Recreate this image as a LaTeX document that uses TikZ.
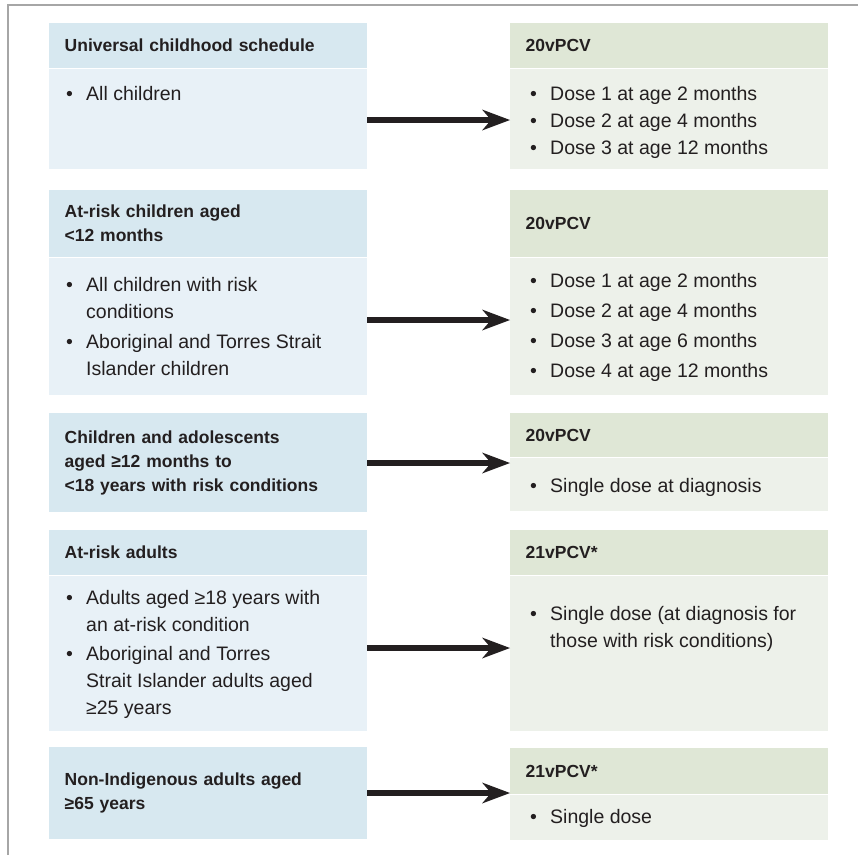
\documentclass[tikz,border=0pt]{standalone}
\usepackage{fontspec}
\setmainfont{Liberation Sans}
\usetikzlibrary{arrows.meta,positioning}

\definecolor{lheadc}{HTML}{D7E8F0}
\definecolor{lbodyc}{HTML}{E8F1F7}
\definecolor{rheadc}{HTML}{DFE7D6}
\definecolor{rbodyc}{HTML}{EDF1EA}
\definecolor{inkc}{HTML}{231F20}
\definecolor{framec}{HTML}{A6A6A6}

\newcommand{\hdfont}{\bfseries\fontsize{17.5}{24}\selectfont}
\newcommand{\bdfont}{\fontsize{19.5}{27}\selectfont}
\newcommand{\itm}[1]{\makebox[20pt][l]{\textbullet}#1}
\newcommand{\cnt}[1]{\hspace*{20pt}#1}
\newcommand{\lines}[1]{\begin{tabular}[t]{@{}l@{}}#1\end{tabular}}

\tikzstyle{box} = [rectangle, inner sep=0pt, anchor=north west, minimum width=318pt]
\tikzstyle{lhead} = [box, fill=lheadc, inner xsep=15.5pt, text width=287pt, align=left, font=\hdfont, text=inkc]
\tikzstyle{rhead} = [lhead, fill=rheadc]
\tikzstyle{lbody} = [box, fill=lbodyc]
\tikzstyle{rbody} = [box, fill=rbodyc]
\tikzstyle{txt} = [inner sep=0pt, anchor=base west, font=\bdfont, text=inkc]
\tikzstyle{arr} = [line width=5.5pt, draw=inkc, -{Stealth[length=28pt,width=21pt,inset=9pt,line width=0pt]}]

\begin{document}
\begin{tikzpicture}[x=1pt,y=-1pt]
    \useasboundingbox (0,0) rectangle (858,855);
    \draw [framec, line width=1.5pt] (8,855) -- (8,5) -- (858,5);

    % row 1
    \node [lhead, minimum height=45pt] (lh1) at (49,23) {Universal childhood schedule};
    \node [lbody, minimum height=100pt] (lb1) at (49,69) {};
    \node [rhead, minimum height=45pt] (rh1) at (510,23) {20vPCV};
    \node [rbody, minimum height=100pt] (rb1) at (510,69) {};
    \node [txt] (lt1) at (66,100) {\itm{All children}};
    \node [txt] (rt1) at (530,100) {\lines{\itm{Dose 1 at age 2 months}\\ \itm{Dose 2 at age 4 months}\\ \itm{Dose 3 at age 12 months}}};

    % row 2
    \node [lhead, minimum height=67pt] (lh2) at (49,190) {At-risk children aged\\ <12 months};
    \node [lbody, minimum height=137pt] (lb2) at (49,258) {};
    \node [rhead, minimum height=67pt] (rh2) at (510,190) {20vPCV};
    \node [rbody, minimum height=137pt] (rb2) at (510,258) {};
    \node [txt] (lt2) at (66,291) {\lines{\itm{All children with risk}\\ \cnt{conditions}\\[3pt] \itm{Aboriginal and Torres Strait}\\ \cnt{Islander children}}};
    \node [txt] (rt2) at (530,287) {\lines{\itm{Dose 1 at age 2 months}\\[3pt] \itm{Dose 2 at age 4 months}\\[3pt] \itm{Dose 3 at age 6 months}\\[3pt] \itm{Dose 4 at age 12 months}}};

    % row 3
    \node [lhead, minimum height=99pt] (lc3) at (49,413) {Children and adolescents\\ aged ≥12 months to\\ <18 years with risk conditions};
    \node [rhead, minimum height=44pt] (rh3) at (510,413) {20vPCV};
    \node [rbody, minimum height=53pt] (rb3) at (510,458) {};
    \node [txt] (rt3) at (530,492) {\itm{Single dose at diagnosis}};

    % row 4
    \node [lhead, minimum height=45pt] (lh4) at (49,530) {At-risk adults};
    \node [lbody, minimum height=155pt] (lb4) at (49,576) {};
    \node [rhead, minimum height=45pt] (rh4) at (510,530) {21vPCV*};
    \node [rbody, minimum height=155pt] (rb4) at (510,576) {};
    \node [txt] (lt4) at (66,604) {\lines{\itm{Adults aged ≥18 years with}\\ \cnt{an at-risk condition}\\[2pt] \itm{Aboriginal and Torres}\\ \cnt{Strait Islander adults aged}\\ \cnt{≥25 years}}};
    \node [txt] (rt4) at (530,620) {\lines{\itm{Single dose (at diagnosis for}\\ \cnt{those with risk conditions)}}};

    % row 5
    \node [lhead, minimum height=92pt] (lc5) at (49,747) {Non-Indigenous adults aged\\ ≥65 years};
    \node [rhead, minimum height=46pt] (rh5) at (510,748) {21vPCV*};
    \node [rbody, minimum height=45pt] (rb5) at (510,795) {};
    \node [txt] (rt5) at (530,823) {\itm{Single dose}};

    % arrows
    \coordinate (y1) at (0,120);
    \coordinate (y2) at (0,320);
    \coordinate (y3) at (0,463);
    \coordinate (y4) at (0,648);
    \coordinate (y5) at (0,793);
    \draw [arr] (lb1.east |- y1) -- (rb1.west |- y1);
    \draw [arr] (lb2.east |- y2) -- (rb2.west |- y2);
    \draw [arr] (lc3.east |- y3) -- (rb3.west |- y3);
    \draw [arr] (lb4.east |- y4) -- (rb4.west |- y4);
    \draw [arr] (lc5.east |- y5) -- (rb5.west |- y5);
\end{tikzpicture}
\end{document}
